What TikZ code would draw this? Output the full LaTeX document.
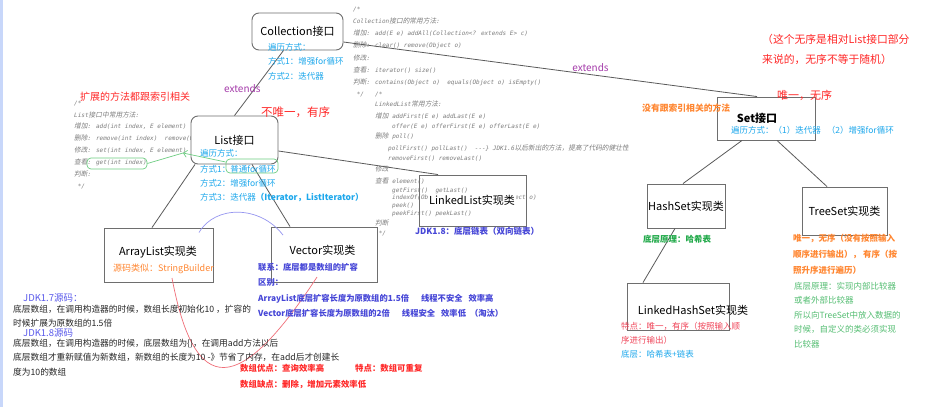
\documentclass[tikz,border=0pt]{standalone}
\usepackage{fontspec}
\setmainfont{Noto Sans CJK SC}
\newfontfamily\cmtfont{DejaVu Sans Mono}
\newfontfamily\cmtzh{Noto Sans CJK SC}[FakeSlant=0.2,Scale=1.12]
\newcommand\zh[1]{{\cmtzh #1}}
\usetikzlibrary{arrows.meta}
\definecolor{boxgray}{RGB}{110,110,110}
\definecolor{linegray}{RGB}{90,90,90}
\definecolor{cmtgray}{RGB}{125,125,125}
\definecolor{txtcyan}{RGB}{30,168,236}
\definecolor{extpurple}{RGB}{165,60,170}
\definecolor{notered}{RGB}{255,40,40}
\definecolor{pinkred}{RGB}{240,70,90}
\definecolor{noteorange}{RGB}{255,135,50}
\definecolor{noteblue}{RGB}{70,70,215}
\definecolor{jdkblue}{RGB}{90,90,235}
\definecolor{notegreen}{RGB}{35,170,75}
\definecolor{lightgreen}{RGB}{85,190,115}
\definecolor{markgreen}{RGB}{110,205,130}
\definecolor{linkpink}{RGB}{240,110,120}
\definecolor{linklav}{RGB}{150,150,240}
\definecolor{stripblue}{RGB}{200,215,250}
\begin{document}
\begin{tikzpicture}[x=1pt, y=-1pt,
  ifbox/.style={draw=boxgray, line width=0.9pt, rounded corners=7pt, fill=white},
  implbox/.style={draw=boxgray, line width=0.9pt, fill=white},
  title/.style={inner sep=0pt, font=\fontsize{11}{13}\selectfont},
  note/.style={anchor=west, inner sep=0pt, font=\fontsize{8.5}{10}\selectfont},
  notebf/.style={note, font=\fontsize{8.5}{10}\selectfont\bfseries},
  block/.style={anchor=north west, inner sep=0pt, align=left},
  cmt/.style={block, text=cmtgray, font=\cmtfont\itshape\fontsize{6}{12.1}\selectfont},
  link/.style={draw=linegray, line width=0.8pt},
  ext/.style={text=extpurple, inner sep=0pt, font=\fontsize{10}{12}\selectfont},
  grnmark/.style={draw=markgreen, line width=0.7pt, rounded corners=4pt, inner sep=0pt},
  grnline/.style={draw=markgreen, line width=0.7pt}
]
\useasboundingbox (0,0) rectangle (937,407);
\fill[white] (0,0) rectangle (937,407);
\fill[stripblue] (0,0) rectangle (2.5,407);

% comment blocks
\node[cmt] (collCmt) at (353,7) {/*\\
Collection\zh{接口的常用方法}:\\
\zh{增加}: add(E e) addAll(Collection<? extends E> c)\\
\zh{删除}: clear() remove(Object o)\\
\zh{修改}:\\
\zh{查看}: iterator() size()\\
\zh{判断}: contains(Object o)\ \ equals(Object o) isEmpty()\\
\ */};
\node[cmt, font=\cmtfont\itshape\fontsize{6}{10.5}\selectfont] (linkedCmt) at (375,91.5) {/*\\[-0.5pt]
LinkedList\zh{常用方法}:\\[1.5pt]
\zh{增加} addFirst(E e) addLast(E e)\\[-0.5pt]
\hspace*{17pt}offer(E e) offerFirst(E e) offerLast(E e)\\[-0.5pt]
\zh{删除} poll()\\[1.5pt]
\hspace*{13pt}pollFirst() pollLast()\ \ -{}-{}-\} JDK1.6\zh{以后新出的方法，提高了代码的健壮性}\\[-0.5pt]
\hspace*{13pt}removeFirst() removeLast()\\[0.5pt]
\zh{修改}\\[1.5pt]
\zh{查看} element()\\[-1.5pt]
\hspace*{17pt}getFirst()\ \ getLast()\\[-3pt]
\hspace*{17pt}indexOf(Object o)\ \ lastIndexOf(Object o)\\[-2.5pt]
\hspace*{17pt}peek()\\[-2.5pt]
\hspace*{17pt}peekFirst() peekLast()\\[-0.5pt]
\zh{判断}\\[-1pt]
\ */};
\node[cmt, font=\cmtfont\itshape\fontsize{6}{11.9}\selectfont] (listCmt) at (74,100.5) {/*\\
List\zh{接口中常用方法}:\\
\zh{增加}: add(int index, E element)\\
\zh{删除}: remove(int index)\ \ remove(Object o)\\
\zh{修改}: set(int index, E element)\\
\zh{查看}: get(int index)\\
\zh{判断}:\\
\ */};

% boxes
\node[ifbox, title, minimum width=91pt, minimum height=37pt] (coll) at (297.5,31.5) {Collection接口};
\node[ifbox, title, minimum width=87pt, minimum height=48pt] (list) at (234.5,140) {List接口};
\node[implbox, minimum width=109pt, minimum height=54pt] (arrayB) at (158.5,255) {};
\node[title] (arrayT) at (158,252) {ArrayList实现类};
\node[implbox, minimum width=106pt, minimum height=55pt] (vecB) at (324,254.5) {};
\node[title] (vecT) at (322.5,250) {Vector实现类};
\node[implbox, fill=none, minimum width=107pt, minimum height=51pt] (linkedB) at (472.5,200.5) {};
\node[title, fill=white, inner sep=1pt] (linkedT) at (472,200) {LinkedList实现类};
\node[implbox, minimum width=98pt, minimum height=43pt] (setB) at (766,118.5) {};
\node[title, font=\fontsize{11}{13}\selectfont\bfseries] (setT) at (757,118) {Set接口};
\node[implbox, title, minimum width=78pt, minimum height=44pt] (hash) at (686,206) {HashSet实现类};
\node[implbox, title, minimum width=85pt, minimum height=48pt] (tree) at (844.5,211) {TreeSet实现类};
\node[implbox, minimum width=102pt, minimum height=47pt] (lhsB) at (678,306.5) {};
\node[title] (lhsT) at (693,310) {LinkedHashSet实现类};

% connectors
\draw[link] ([xshift=-14pt]coll.south) -- (list.north);
\draw[link] ([yshift=-10.5pt]coll.east) -- ([xshift=-9pt]setB.north);
\draw[link] ([yshift=-11pt]list.east) -- ([xshift=-34.5pt]linkedB.north);
\draw[link] ([xshift=-39.5pt]list.south) -- ([xshift=-6.5pt]arrayB.north);
\draw[link] ([xshift=17.5pt]list.south) -- ([xshift=-34pt]vecB.north);
\draw[link] ([xshift=-24pt]setB.south) -- ([xshift=-3pt]hash.north);
\draw[link] ([xshift=11pt]setB.south) -- ([xshift=-17.5pt]tree.north);
\draw[link] ([xshift=-11pt]hash.south) -- ([xshift=-35pt]lhsB.north);
\node[ext, anchor=west] (ext1) at (224,89) {extends};
\node[ext] (ext2) at (590.5,68) {extends};

% Collection / List notes
\node[block, text=txtcyan, font=\fontsize{8.5}{14.5}\selectfont] (collWay) at (268,42.75) {遍历方式：\\方式1：增强for循环\\方式2：迭代器};
\node[note, text=notered, font=\fontsize{10}{12}\selectfont] (listExt) at (80,97) {扩展的方法都跟索引相关};
\node[note, text=notered, font=\fontsize{11.5}{13}\selectfont] (listOrd) at (261,112) {不唯一，有序};
\node[block, text=txtcyan, font=\fontsize{8.5}{14}\selectfont] (listWay) at (200,148.75) {遍历方式：\\[2pt]方式1：普通for循环\\方式2：增强for循环\\方式3：迭代器\textbf{（Iterator，ListIterator）}};

% green marks
\node[grnmark, minimum width=60pt, minimum height=11pt] (getbox) at (117,163.5) {};
\node[grnmark, minimum width=52pt, minimum height=14pt] (ptbox) at (252,166) {};
\coordinate (gmid) at (183,153);
\draw[grnline, -{Straight Barb[length=3.5pt,width=7pt]}] ([yshift=4pt]ptbox.west) -- (gmid);
\draw[grnline] (gmid) -- (getbox.east);

% curves between ArrayList and Vector
\draw[draw=linklav, line width=0.7pt] ([xshift=40.5pt,yshift=-5pt]arrayB.north) .. controls (215,205) and (260,205) .. ([xshift=-41pt,yshift=-8.5pt]vecB.north);
\draw[draw=linkpink, line width=0.7pt] ([xshift=13.5pt,yshift=-23pt]arrayB.center) .. controls (195,400) and (240,395) .. ([xshift=-7pt,yshift=-22.5pt]vecB.center);

% List implementations
\node[note, text=noteorange, font=\fontsize{9}{11}\selectfont, anchor=center] (arraySub) at (163.5,269) {源码类似：StringBuilder};
\node[notebf, text=noteblue] (linkedJdk) at (415,231) {JDK1.8：底层链表（双向链表）};
\node[block, text=noteblue, font=\fontsize{8.3}{15.5}\selectfont\bfseries] (vecNote) at (258,262.8) {联系：底层都是数组的扩容\\区别：\\ArrayList底层扩容长度为原数组的1.5倍\hspace{12pt}线程不安全\hspace{6pt}效率高\\Vector底层扩容长度为原数组的2倍\hspace{12pt}线程安全\hspace{6pt}效率低\hspace{4pt}（淘汰）};
\node[note, text=jdkblue, font=\fontsize{9.5}{11}\selectfont] (jdk7T) at (23,298) {JDK1.7源码：};
\node[block, text=black!85, font=\fontsize{8.7}{14}\selectfont] (jdk7B) at (13,304.6) {底层数组，在调用构造器的时候，数组长度初始化10 ，扩容的\\时候扩展为原数组的1.5倍};
\node[note, text=jdkblue, font=\fontsize{9.5}{11}\selectfont] (jdk8T) at (23,333) {JDK1.8源码};
\node[block, text=black!85, font=\fontsize{8.7}{14.5}\selectfont] (jdk8B) at (13,338.6) {底层数组，在调用构造器的时候，底层数组为\{\}，在调用add方法以后\\底层数组才重新赋值为新数组，新数组的长度为10 -》节省了内存，在add后才创建长\\度为10的数组};
\node[notebf, text=notered, font=\fontsize{8.4}{10}\selectfont\bfseries] (arrGood) at (240,368) {数组优点：查询效率高};
\node[notebf, text=notered, font=\fontsize{8.4}{10}\selectfont\bfseries] (arrFeat) at (355,368) {特点：数组可重复};
\node[notebf, text=notered, font=\fontsize{8.4}{10}\selectfont\bfseries] (arrBad) at (240,384) {数组缺点：删除，增加元素效率低};

% Set notes
\node[block, text=notered, font=\fontsize{10.8}{20}\selectfont] (setNote) at (762,33.6) {（这个无序是相对List接口部分\\来说的，无序不等于随机）};
\node[note, text=notered, font=\fontsize{11}{13}\selectfont] (setOrd) at (777,95) {唯一，无序};
\node[notebf, text=noteorange, font=\fontsize{8.8}{10}\selectfont\bfseries] (setIdx) at (642,108) {没有跟索引相关的方法};
\node[note, text=txtcyan] (setWay) at (731,130) {遍历方式：（1）迭代器\hspace{6pt}（2）增强for循环};
\node[notebf, text=notegreen] (hashNote) at (643,239) {底层原理：哈希表};
\node[block, text=noteorange, font=\fontsize{8.5}{16}\selectfont\bfseries] (treeOrd) at (793,233.75) {唯一，无序（没有按照输入\\顺序进行输出）， 有序（按\\照升序进行遍历）};
\node[block, text=lightgreen, font=\fontsize{8.5}{14.5}\selectfont] (treeCmp) at (794,281.75) {底层原理：实现内部比较器\\或者外部比较器\\所以向TreeSet中放入数据的\\时候，自定义的类必须实现\\比较器};
\node[block, text=pinkred, font=\fontsize{8.5}{14}\selectfont] (lhsNote) at (621,321.75) {特点：唯一，有序（按照输入顺\\序进行输出）};
\node[note, text=txtcyan] (lhsBase) at (621,354) {底层：哈希表+链表};
\end{tikzpicture}
\end{document}
